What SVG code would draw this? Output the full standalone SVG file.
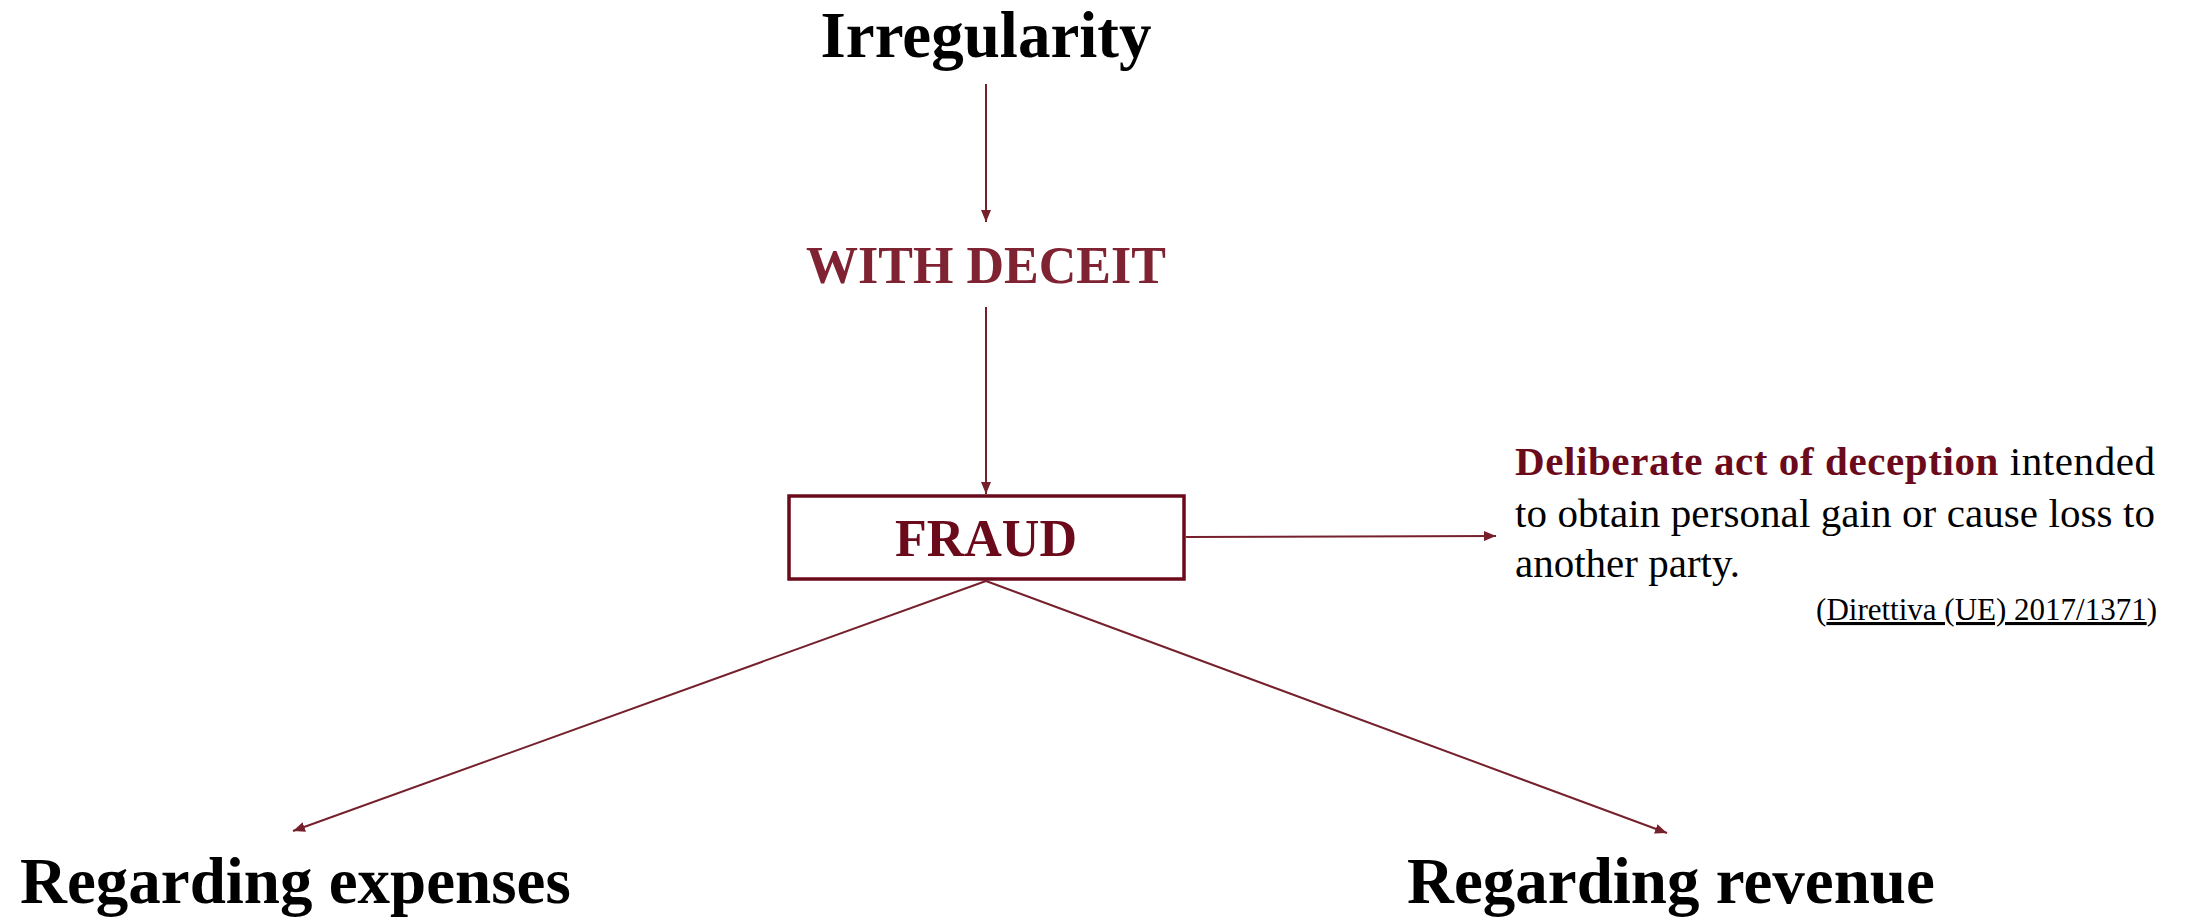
<svg xmlns="http://www.w3.org/2000/svg" width="2189" height="923" viewBox="0 0 2189 923">
<style>
.title{font-family:"Liberation Serif",serif;font-weight:bold;font-size:65px;fill:#000}
.conn{stroke:#76202c;stroke-width:2;fill:none}
.body{font-family:"Liberation Serif",serif;font-size:41px;fill:#000}
.strong{font-weight:bold;fill:#6b0a1a}
</style>
<defs>
<marker id="arr" viewBox="0 0 12 10" refX="12" refY="5" markerWidth="12" markerHeight="10" markerUnits="userSpaceOnUse" orient="auto">
<path d="M0,0 L12,5 L0,10 z" fill="#76202c"/>
</marker>
</defs>
<rect width="2189" height="923" fill="#fff"/>
<g id="connectors">
<line class="conn" x1="986" y1="84" x2="986" y2="222" marker-end="url(#arr)"/>
<line class="conn" x1="986" y1="307" x2="986" y2="494" marker-end="url(#arr)"/>
<line class="conn" x1="1186" y1="537" x2="1496" y2="536" marker-end="url(#arr)"/>
<line class="conn" x1="986" y1="581" x2="293" y2="831" marker-end="url(#arr)"/>
<line class="conn" x1="986" y1="581" x2="1667" y2="833" marker-end="url(#arr)"/>
</g>
<g id="irregularity">
<text class="title" x="986" y="57" text-anchor="middle">Irregularity</text>
</g>
<g id="with-deceit">
<text x="986" y="283" text-anchor="middle" font-family="'Liberation Serif',serif" font-weight="bold" font-size="52" fill="#7f2232">WITH DECEIT</text>
</g>
<g id="fraud">
<rect x="789" y="496" width="395" height="83" fill="#fff" stroke="#6b0a1a" stroke-width="3.5"/>
<text x="986" y="556" text-anchor="middle" font-family="'Liberation Serif',serif" font-weight="bold" font-size="52" fill="#6b0a1a">FRAUD</text>
</g>
<g id="definition">
<text class="body" x="1515" y="475" textLength="640" lengthAdjust="spacing"><tspan class="strong">Deliberate act of deception</tspan> intended</text>
<text class="body" x="1515" y="527" textLength="640" lengthAdjust="spacing">to obtain personal gain or cause loss to</text>
<text class="body" x="1515" y="577">another party.</text>
<text x="2157" y="620" text-anchor="end" font-family="'Liberation Serif',serif" font-size="31" fill="#000">(<tspan text-decoration="underline">Direttiva (UE) 2017/1371</tspan>)</text>
</g>
<g id="expenses">
<text class="title" x="20" y="903">Regarding expenses</text>
</g>
<g id="revenue">
<text class="title" x="1407" y="903">Regarding revenue</text>
</g>
</svg>
